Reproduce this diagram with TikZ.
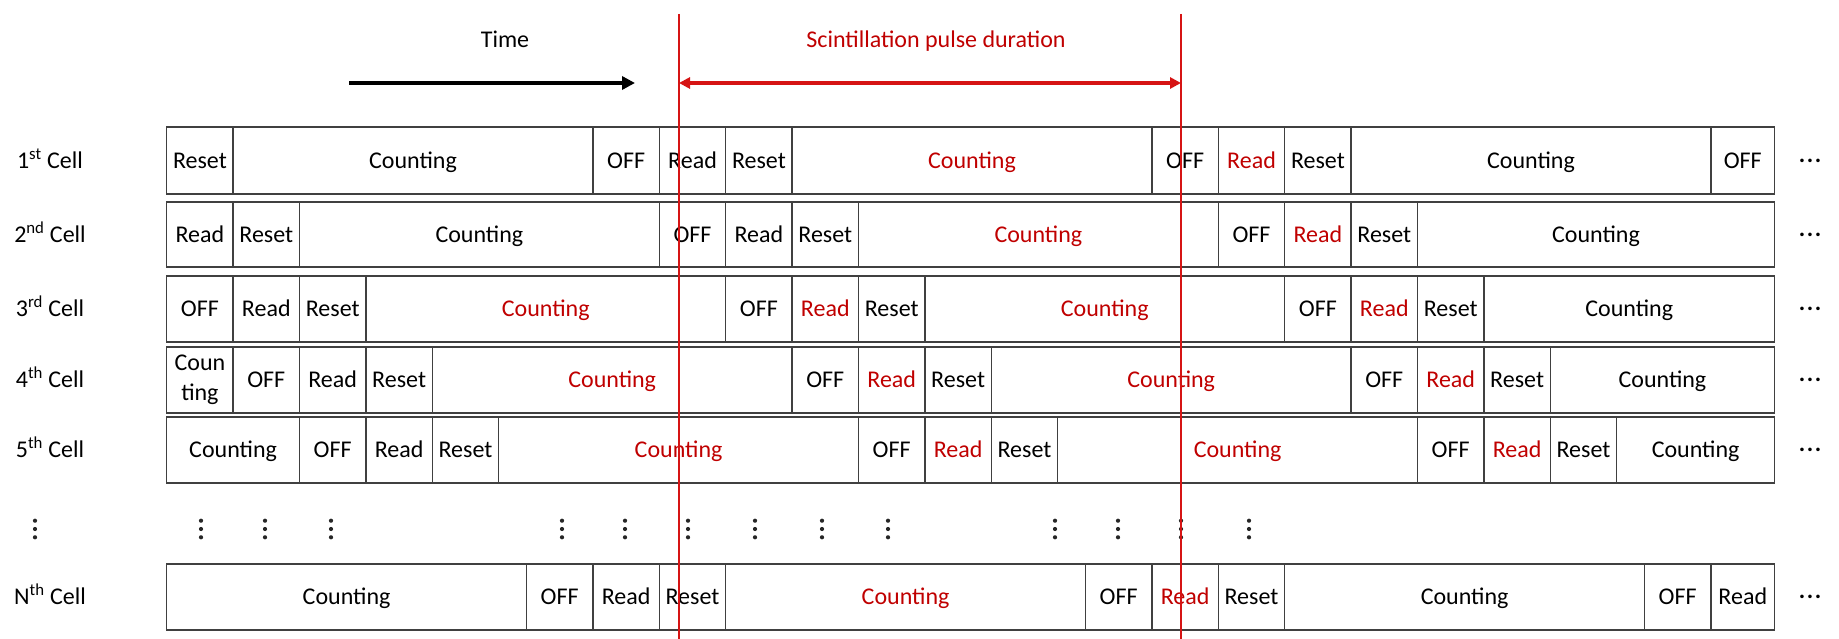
\documentclass[tikz,border=0pt]{standalone}
\usepackage{fontspec}
\setmainfont{Carlito}
\usetikzlibrary{arrows.meta}
\definecolor{tred}{RGB}{192,0,0}
\definecolor{lred}{RGB}{214,20,20}
\definecolor{edge}{RGB}{64,64,64}
% text with a fixed cap height, so every label sits on the same baseline
\newcommand\capbox[1]{\raisebox{0pt}[15.6pt][0pt]{#1}}
% horizontal continuation dots
\newcommand\rowdots{\textbf{.\kern1.6pt.\kern1.6pt.}}
% one row of phase blocks: #1 name, #2 top, #3 bottom, #4 start/end/text/colour list
\newcommand\cellrow[4]{%
  \foreach \xa/\xb/\txt/\col [count=\k] in {#4} {
    \pgfmathsetmacro\blkx{(\xa+\xb)/2}
    \pgfmathsetmacro\blkw{\xb-\xa}
    \pgfmathsetmacro\blky{(#2+#3)/2}
    \pgfmathsetmacro\blkh{#3-#2}
    \node[blk, text=\col, minimum width=\blkw pt, minimum height=\blkh pt]
      (#1-\k) at (\blkx,\blky) {\capbox{\txt}};
  }%
}
\begin{document}
\begin{tikzpicture}[x=1pt,y=-1pt,
  blk/.style={draw=edge, line width=1.4pt, inner sep=0pt, font=\fontsize{24}{30}\selectfont},
  lab/.style={inner sep=0pt, font=\fontsize{24}{30}\selectfont},
  dotmark/.style={inner sep=0pt, font=\fontsize{24}{30}\selectfont},
  skipdot/.style={fill=black!85},
  pulse/.style={draw=lred, line width=1.3pt},
  timearrow/.style={draw=black, line width=4pt, -{Triangle[length=13pt,width=13pt]}},
  spanarrow/.style={draw=lred, line width=3.5pt,
    {Triangle[length=11pt,width=11pt]}-{Triangle[length=11pt,width=11pt]}}]
\fill[white] (0,0) rectangle (1839,639);
\useasboundingbox (0,0) rectangle (1839,639);

% headings and arrows
\node[lab] (time) at (505,40) {\capbox{Time}};
\node[lab, text=tred] (spl) at (936,40) {\capbox{Scintillation pulse duration}};
\coordinate (ta) at (349,83);
\coordinate (tb) at (635,83);
\draw[timearrow] (ta) -- (tb);

% row labels
\node[lab] (l1) at (50,160.5) {\capbox{1\textsuperscript{st} Cell}};
\node[lab] (l2) at (50,234.5) {\capbox{2\textsuperscript{nd} Cell}};
\node[lab] (l3) at (50,309) {\capbox{3\textsuperscript{rd} Cell}};
\node[lab] (l4) at (50,380) {\capbox{4\textsuperscript{th} Cell}};
\node[lab] (l5) at (50,450) {\capbox{5\textsuperscript{th} Cell}};
\node[lab] (lN) at (50,597) {\capbox{N\textsuperscript{th} Cell}};

% 1st cell
\cellrow{r1}{127}{194}{166.7/233.1/Reset/black, 233.1/592.9/Counting/black,
  592.9/659.3/OFF/black, 659.3/725.7/Read/black, 725.7/792.1/Reset/black,
  792.1/1151.9/Counting/tred, 1151.9/1218.3/OFF/black, 1218.3/1284.7/Read/tred,
  1284.7/1351.1/Reset/black, 1351.1/1710.9/Counting/black, 1710.9/1774.6/OFF/black}
% 2nd cell
\cellrow{r2}{202}{267}{166.7/233.1/Read/black, 233.1/299.5/Reset/black,
  299.5/659.3/Counting/black, 659.3/725.7/OFF/black, 725.7/792.1/Read/black,
  792.1/858.5/Reset/black, 858.5/1218.3/Counting/tred, 1218.3/1284.7/OFF/black,
  1284.7/1351.1/Read/tred, 1351.1/1417.5/Reset/black, 1417.5/1774.6/Counting/black}
% 3rd cell
\cellrow{r3}{276}{342}{166.7/233.1/OFF/black, 233.1/299.5/Read/black,
  299.5/365.9/Reset/black, 365.9/725.7/Counting/tred, 725.7/792.1/OFF/black,
  792.1/858.5/Read/tred, 858.5/924.9/Reset/black, 924.9/1284.7/Counting/tred,
  1284.7/1351.1/OFF/black, 1351.1/1417.5/Read/tred, 1417.5/1483.9/Reset/black,
  1483.9/1774.6/Counting/black}
% 4th cell
\node[blk, align=center, minimum width=66.4pt, minimum height=66pt]
  (r4-0) at (199.9,380) {Coun\\ting};
\cellrow{r4}{347}{413}{233.1/299.5/OFF/black, 299.5/365.9/Read/black,
  365.9/432.3/Reset/black, 432.3/792.1/Counting/tred, 792.1/858.5/OFF/black,
  858.5/924.9/Read/tred, 924.9/991.3/Reset/black, 991.3/1351.1/Counting/tred,
  1351.1/1417.5/OFF/black, 1417.5/1483.9/Read/tred, 1483.9/1550.3/Reset/black,
  1550.3/1774.6/Counting/black}
% 5th cell
\cellrow{r5}{417}{483}{166.7/299.5/Counting/black, 299.5/365.9/OFF/black,
  365.9/432.3/Read/black, 432.3/498.7/Reset/black, 498.7/858.5/Counting/tred,
  858.5/924.9/OFF/black, 924.9/991.3/Read/tred, 991.3/1057.7/Reset/black,
  1057.7/1417.5/Counting/tred, 1417.5/1483.9/OFF/black, 1483.9/1550.3/Read/tred,
  1550.3/1616.7/Reset/black, 1616.7/1774.6/Counting/black}
% N-th cell
\cellrow{rN}{564}{630}{166.7/526.5/Counting/black, 526.5/592.9/OFF/black,
  592.9/659.3/Read/black, 659.3/725.7/Reset/black, 725.7/1085.5/Counting/tred,
  1085.5/1151.9/OFF/black, 1151.9/1218.3/Read/tred, 1218.3/1284.7/Reset/black,
  1284.7/1644.5/Counting/black, 1644.5/1710.9/OFF/black, 1710.9/1774.6/Read/black}

% continuation marks to the right of each row
\foreach \yy [count=\i] in {160.5,234.5,309,380,450,597}
  \node[dotmark] (more\i) at (1810,\yy) {\rowdots};
% vertical ellipses between the 5th and the N-th cell
\foreach \xx in {35,201,265,331,562,625,688,755,822,888,1055,1118,1181,1249}
  \foreach \yy in {520.7,529,537.3}
    \fill[skipdot] (\xx,\yy) circle (2.1pt);

% pulse window
\coordinate (pa) at (679,14);
\coordinate (pb) at (1181,14);
\coordinate (pa2) at (679,639);
\coordinate (pb2) at (1181,639);
\draw[pulse] (pa) -- (pa2);
\draw[pulse] (pb) -- (pb2);
\coordinate (sa) at (679,83);
\coordinate (sb) at (1181,83);
\draw[spanarrow] (sa) -- (sb);
\end{tikzpicture}
\end{document}
